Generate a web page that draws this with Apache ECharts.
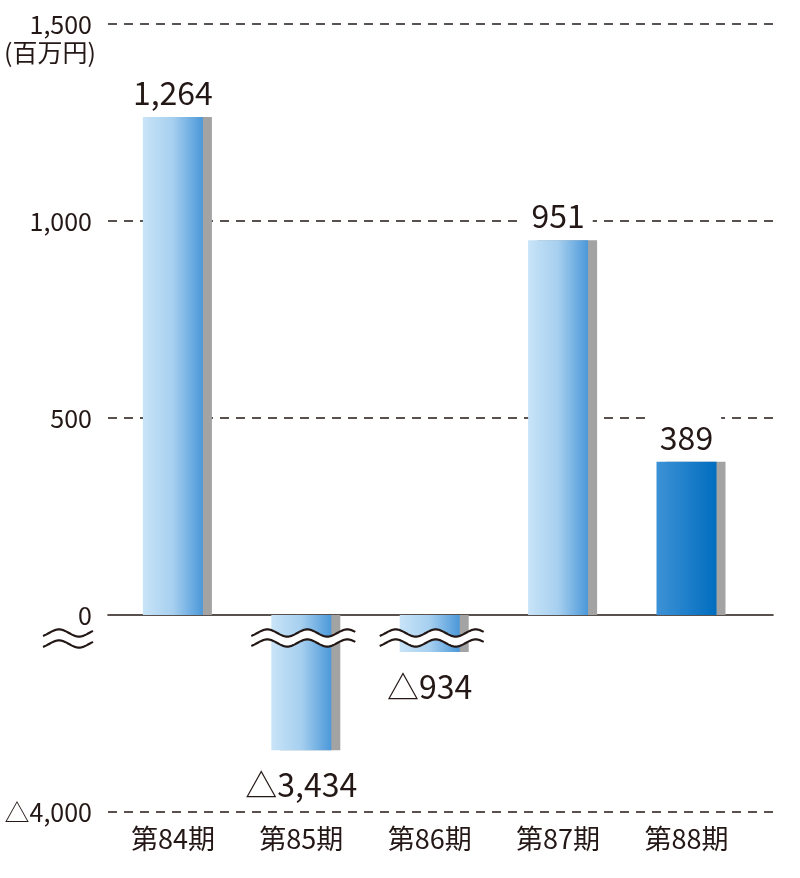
<!DOCTYPE html>
<html><head><meta charset="utf-8">
<script src="https://cdn.jsdelivr.net/npm/echarts@6/dist/echarts.min.js"></script>
<style>html,body{margin:0;padding:0;background:#fff}#c{width:800px;height:878px}</style>
</head><body><div id="c"></div>
<script>
// ---- data ----
const categories = ['第84期', '第85期', '第86期', '第87期', '第88期'];
const values = [1264, -3434, -934, 951, 389];
const highlightIndex = 4;               // 第88期 drawn in darker blue
const yTickValues = [-4000, 500, 1000, 1500];
const yLabelValues = [-4000, 0, 500, 1000, 1500];
const unitLabel = '(百万円)';
const yBreaks = [
  { start: -924, end: -10, gap: 74 },
  { start: -3424, end: -944, gap: 229 },
  { start: -3990, end: -3444, gap: 137 }
];

const INK = '#231815';
const FONT = '"Noto Sans CJK JP", "Noto Sans", sans-serif';

function fmt(v) {
  const s = Math.abs(v).toLocaleString('en-US');
  return v < 0 ? '△' + s : s;
}

const lightGrad = new echarts.graphic.LinearGradient(0, 0, 1, 0, [
  { offset: 0, color: '#c8e4f8' },
  { offset: 0.5, color: '#a6cfef' },
  { offset: 1, color: '#4b98d9' }
]);
const darkGrad = new echarts.graphic.LinearGradient(0, 0, 1, 0, [
  { offset: 0, color: '#3e92d6' },
  { offset: 1, color: '#006dbf' }
]);

function yAxisBase(show) {
  return {
    type: 'value', min: -4000, max: 1500,
    breaks: yBreaks.map(b => Object.assign({}, b)),
    breakArea: { show: false },
    show: show
  };
}

const chart = echarts.init(document.getElementById('c'), null, { renderer: 'canvas' });

const barData = values.map((v, i) => ({
  value: v,
  itemStyle: { color: i === highlightIndex ? darkGrad : lightGrad },
  label: v < 0 ? { position: 'bottom', distance: 13 } : { position: 'top', distance: 8 }
}));

chart.setOption({
  animation: false,
  backgroundColor: '#fff',
  grid: [
    { left: 108.7, right: 49.3, top: 24, bottom: 66, outerBoundsMode: 'none', containLabel: false },
    { left: 108, right: 27, top: 24, bottom: 66, outerBoundsMode: 'none', containLabel: false }
  ],
  xAxis: [
    {
      type: 'category', gridIndex: 0, data: categories,
      position: 'bottom',
      axisLine: { show: false, onZero: false },
      axisTick: { show: false },
      axisLabel: { color: INK, fontFamily: FONT, fontSize: 27, margin: 13 }
    },
    {
      type: 'category', gridIndex: 1, data: categories,
      axisLine: { show: true, onZero: true, lineStyle: { color: INK, width: 1.6 } },
      axisTick: { show: false },
      axisLabel: { show: false }
    }
  ],
  yAxis: [
    Object.assign(yAxisBase(false), { gridIndex: 0 }),
    Object.assign(yAxisBase(true), {
      gridIndex: 1,
      axisLine: { show: false },
      axisTick: { show: false, customValues: yTickValues },
      axisLabel: {
        customValues: yLabelValues,
        color: INK, fontFamily: FONT, fontSize: 25, margin: 16,
        formatter: v => fmt(v)
      },
      splitLine: { show: true, lineStyle: { color: INK, width: 1.5, type: [9, 7] } }
    })
  ],
  series: [{
    type: 'bar',
    xAxisIndex: 0, yAxisIndex: 0,
    data: barData,
    barWidth: 60,
    z: 5,
    itemStyle: { shadowColor: '#a3a3a3', shadowOffsetX: 9, shadowOffsetY: 0, shadowBlur: 0 },
    label: {
      show: true, color: INK, fontFamily: FONT, fontSize: 32,
      backgroundColor: '#fff', padding: [6, 8, 0, 8],
      formatter: p => fmt(p.value)
    }
  }]
});

// ---- decorative break waves ----
function wavePts(x0, x1, yc, amp, period, xPeak) {
  const pts = [];
  for (let x = x0; x <= x1 + 0.01; x += 1) {
    pts.push([x, yc - amp * Math.cos(2 * Math.PI * (x - xPeak) / period)]);
  }
  return pts;
}
function waveGroup(x0, x1, yTop, sep) {
  const up = wavePts(x0, x1, yTop, 3.6, 40, x0 + 16);
  const lo = wavePts(x0, x1, yTop + sep, 3.6, 40, x0 + 16);
  const poly = up.concat(lo.slice().reverse());
  return [
    { type: 'polygon', z: 100, shape: { points: poly }, style: { fill: '#fff', stroke: null } },
    { type: 'polyline', z: 101, shape: { points: up }, style: { stroke: INK, lineWidth: 2.2, fill: null } },
    { type: 'polyline', z: 101, shape: { points: lo }, style: { stroke: INK, lineWidth: 2.2, fill: null } }
  ];
}

const zeroY = chart.convertToPixel({ yAxisIndex: 0 }, 0);
let graphics = [];
values.forEach((v, i) => {
  if (v < 0) {
    const cx = chart.convertToPixel({ xAxisIndex: 0 }, i);
    graphics = graphics.concat(waveGroup(cx - 50, cx + 54, zeroY + 18, 10));
  }
});
graphics = graphics.concat(waveGroup(43, 93, zeroY + 18, 11).slice(1));
graphics.push({
  type: 'text', left: 4, top: 40, z: 100,
  style: { text: unitLabel, fill: INK, font: '25px ' + FONT }
});
chart.setOption({ graphic: graphics });
</script>
</body></html>
